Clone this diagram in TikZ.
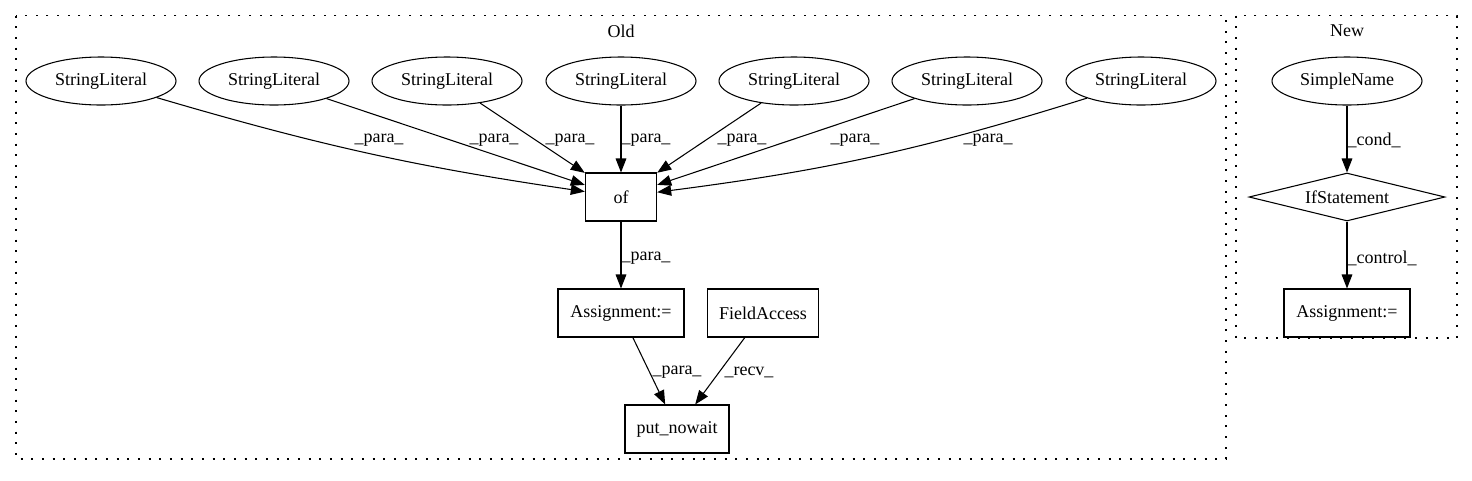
\documentclass[tikz,border=0pt]{standalone}
\usepackage{fontspec}
\setmainfont{Liberation Serif}
\usetikzlibrary{shapes.geometric,arrows.meta}
\begin{document}
\begin{tikzpicture}[x=0.75pt,y=-0.75pt,
  every node/.style={font=\fontsize{13.5pt}{16pt}\selectfont},
  sl/.style={ellipse,draw,line width=0.8pt,minimum width=112.5pt,minimum height=36pt,inner sep=0pt},
  bx/.style={rectangle,draw,line width=0.8pt,minimum height=36pt,inner sep=0pt},
  dm/.style={diamond,draw,line width=0.8pt,aspect=4.08,minimum width=147pt,minimum height=36pt,inner sep=0pt},
  ed/.style={draw,line width=0.8pt,-{Triangle[length=10.5pt,width=8pt]}},
  lab/.style={inner sep=0pt},
  clus/.style={draw,line width=1pt,dash pattern=on 1.5pt off 6.5pt}]
\useasboundingbox (0,0) rectangle (1472,480);
% clusters
\draw[clus] (16,15.5) rectangle (1226,459);
\draw[clus] (1236,15.5) rectangle (1457,338);
\node (oldlab) at (621,31) {Old};
\node (newlab) at (1347,31) {New};
% Old nodes
\node[sl] (s1) at (101,81) {StringLiteral};
\node[sl] (s2) at (274,81) {StringLiteral};
\node[sl] (s3) at (447,81) {StringLiteral};
\node[sl] (s4) at (621,81) {StringLiteral};
\node[sl] (s5) at (794,81) {StringLiteral};
\node[sl] (s6) at (967,81) {StringLiteral};
\node[sl] (s7) at (1141,81) {StringLiteral};
\node[bx,minimum width=53.5pt] (of) at (621,197) {of};
\node[bx,minimum width=94.5pt] (as) at (621,313) {Assignment:=};
\node[bx,minimum width=83pt] (fa) at (763,313) {FieldAccess};
\node[bx,minimum width=78pt] (pn) at (677,429) {put\_nowait};
% Old edges
\draw[ed] (s1) to[bend right=4] (of);
\draw[ed] (s2) -- (of);
\draw[ed] (s3) -- (of);
\draw[ed] (s4) -- (of);
\draw[ed] (s5) -- (of);
\draw[ed] (s6) -- (of);
\draw[ed] (s7) to[bend left=5] (of);
\draw[ed] (of) -- (as);
\draw[ed] (as) -- (pn);
\draw[ed] (fa) -- (pn);
\node[lab] (l1) at (379,140) {\_para\_};
\node[lab] (l2) at (494,140) {\_para\_};
\node[lab] (l3) at (570,140) {\_para\_};
\node[lab] (l4) at (646,140) {\_para\_};
\node[lab] (l5) at (742,140) {\_para\_};
\node[lab] (l6) at (855,140) {\_para\_};
\node[lab] (l7) at (988,140) {\_para\_};
\node[lab] (l8) at (646,258) {\_para\_};
\node[lab] (l9) at (677,372) {\_para\_};
\node[lab] (l10) at (749,372) {\_recv\_};
% New nodes
\node[sl] (sn) at (1347,81) {SimpleName};
\node[dm] (if) at (1347,197) {IfStatement};
\node[bx,minimum width=94.5pt] (as2) at (1347,313) {Assignment:=};
\draw[ed] (sn) -- (if);
\draw[ed] (if) -- (as2);
\node[lab] (l11) at (1374,140) {\_cond\_};
\node[lab] (l12) at (1382,258) {\_control\_};
\end{tikzpicture}
\end{document}
